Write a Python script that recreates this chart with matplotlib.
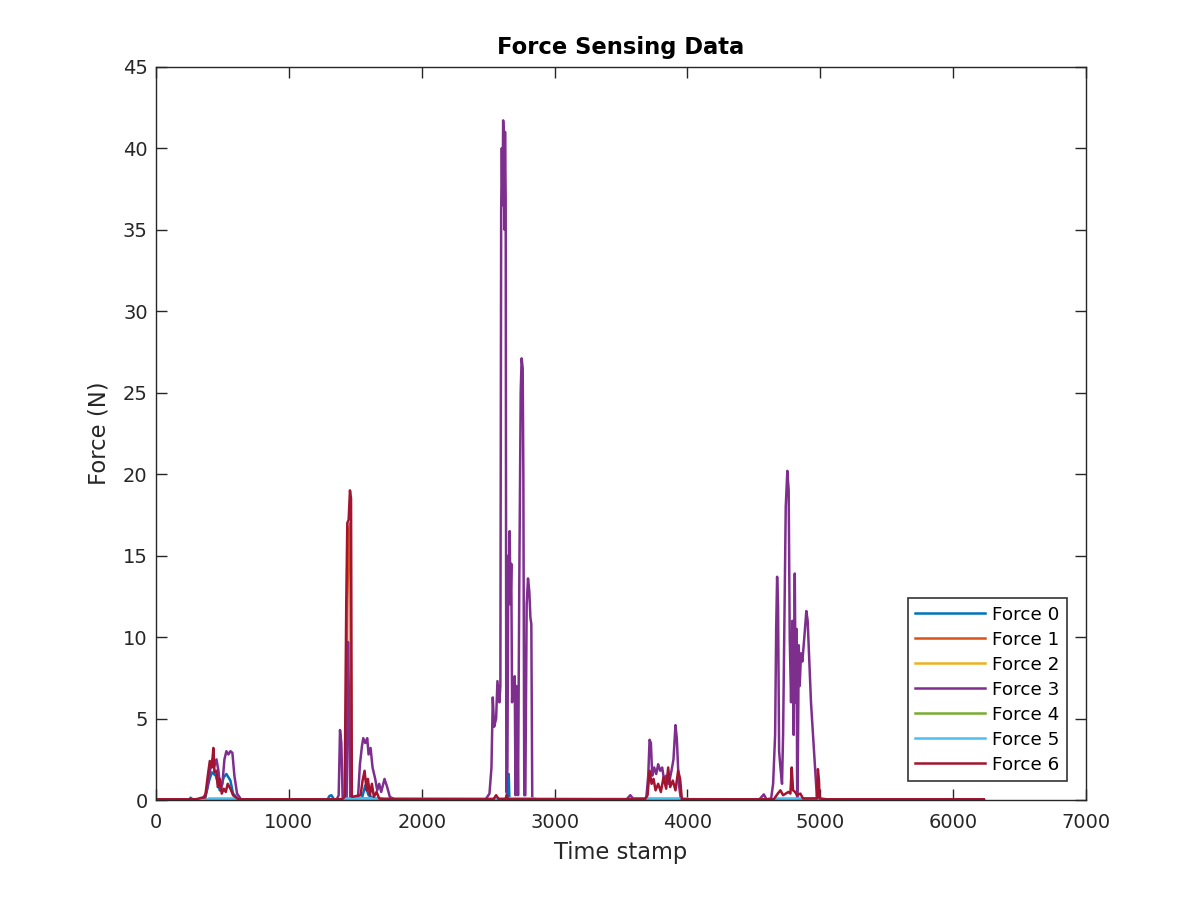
import matplotlib
matplotlib.use('Agg')
import matplotlib.pyplot as plt

# Force sensor readings, keypoints
t0 = [0, 250, 260, 280, 370, 400, 420, 450, 480, 510, 530, 560, 580, 620, 700,
      1290, 1305, 1320, 1340, 1550, 1575, 1600, 1640, 1700, 2600, 2640, 2645, 2655,
      2660, 2700, 3700, 3900, 4700, 4900, 6230]
f0 = [0.02, 0.02, 0.15, 0.02, 0.1, 1.2, 1.7, 1.5, 0.6, 1.4, 1.6, 1.2, 0.4, 0.05, 0.02,
      0.02, 0.25, 0.3, 0.05, 0.1, 0.9, 0.3, 0.1, 0.02, 0.02, 0.05, 1.6, 1.6,
      0.05, 0.02, 0.05, 0.05, 0.05, 0.05, 0.02]

t1 = [0, 1430, 1440, 1450, 1462, 1470, 6230]
f1 = [0.02, 0.05, 12.0, 16.5, 17.0, 0.1, 0.02]

t2 = [0, 6230]
f2 = [0.01, 0.01]

t3 = [0, 350, 380, 400, 415, 425, 440, 455, 470, 485, 500, 515, 530, 545, 560, 575, 590, 610, 640, 700,
      1360, 1375, 1385, 1395, 1405, 1435, 1445, 1455, 1462, 1520, 1535, 1550, 1560, 1575, 1590,
      1600, 1615, 1630, 1650, 1665, 1680, 1695, 1720, 1740, 1760, 1800,
      2480, 2510, 2525, 2535, 2545, 2560, 2570, 2585, 2592, 2598, 2603, 2608, 2613, 2618, 2622,
      2627, 2632, 2637, 2645, 2652, 2657, 2662, 2668, 2674, 2680, 2686, 2692, 2700, 2706, 2712,
      2718, 2725, 2735, 2745, 2752, 2760, 2765, 2772, 2780, 2790, 2800, 2810, 2818, 2825, 2832, 2880,
      3540, 3570, 3590, 3690, 3705, 3715, 3725, 3735, 3750, 3765, 3780, 3795, 3810, 3825, 3840,
      3860, 3880, 3895, 3910, 3920, 3935, 3950, 4000,
      4540, 4575, 4595, 4630, 4645, 4660, 4668, 4675, 4682, 4690, 4700, 4712, 4720, 4730, 4740,
      4752, 4762, 4770, 4780, 4790, 4800, 4808, 4815, 4822, 4826, 4832, 4838, 4845, 4855, 4865,
      4880, 4895, 4905, 4915, 4930, 4945, 4960, 4975, 5050, 6230]
f3 = [0.03, 0.03, 0.5, 1.5, 2.2, 2.5, 2.1, 2.5, 1.8, 0.6, 1.0, 2.5, 3.0, 2.8, 3.0, 2.9, 1.5, 0.4, 0.05, 0.03,
      0.03, 0.3, 4.3, 3.5, 0.1, 0.1, 9.7, 5.0, 0.1, 0.1, 2.2, 3.3, 3.8, 3.5, 3.8,
      2.8, 3.2, 2.0, 1.3, 0.6, 1.0, 0.5, 1.3, 0.8, 0.2, 0.03,
      0.03, 0.4, 2.0, 6.3, 4.5, 5.0, 7.3, 6.0, 7.0, 36.0, 40.0, 36.5, 41.7, 40.5, 35.0,
      41.0, 37.0, 0.5, 2.0, 15.0, 13.5, 16.5, 12.0, 14.5, 6.0, 7.5, 6.5, 7.6, 0.3, 7.0,
      6.5, 0.3, 14.0, 25.0, 27.1, 26.5, 20.0, 0.3, 0.3, 12.0, 13.6, 12.8, 11.2, 10.8, 0.1, 0.03,
      0.03, 0.3, 0.1, 0.1, 1.5, 3.7, 3.5, 1.5, 2.0, 1.6, 2.2, 1.8, 2.0, 1.2, 1.5,
      1.0, 1.8, 2.5, 4.6, 3.8, 1.0, 0.1, 0.03,
      0.03, 0.35, 0.05, 0.1, 1.0, 4.0, 10.5, 13.7, 12.0, 3.0, 2.0, 1.0, 4.0, 11.0, 18.0,
      20.2, 19.0, 10.0, 6.0, 11.0, 4.0, 13.9, 6.0, 10.5, 0.1, 3.0, 9.5, 7.0, 9.0, 8.5,
      10.0, 11.6, 11.0, 9.0, 6.0, 4.0, 2.0, 0.1, 0.03, 0.03]

t4 = [0, 6230]
f4 = [0.01, 0.01]

t5 = [0, 380, 400, 600, 620, 1380, 1400, 1700, 1720, 2550, 2570, 2850, 2870,
      3680, 3700, 4000, 4020, 4640, 4660, 4980, 5000, 6230]
f5 = [0.0, 0.0, 0.1, 0.1, 0.0, 0.0, 0.1, 0.1, 0.0, 0.0, 0.1, 0.1, 0.0,
      0.0, 0.1, 0.1, 0.0, 0.0, 0.1, 0.1, 0.0, 0.0]

t6 = [0, 300, 370, 390, 405, 420, 432, 440, 455, 465, 480, 495, 510, 525, 540, 560, 580, 620,
      1400, 1420, 1432, 1440, 1450, 1460, 1468, 1474, 1540, 1555, 1570, 1585, 1595, 1610, 1625,
      1640, 1660, 1680, 1720, 2540, 2560, 2580, 2630, 2640, 2650,
      3680, 3700, 3715, 3730, 3745, 3760, 3780, 3800, 3820, 3840, 3855, 3870, 3890, 3910, 3930,
      3945, 3958, 4650, 4680, 4700, 4720, 4740, 4760, 4775, 4785, 4795, 4810, 4825, 4850, 4870,
      4975, 4982, 4990, 4995, 5050, 6230]
f6 = [0.05, 0.05, 0.2, 1.5, 2.4, 2.0, 3.2, 1.7, 1.8, 0.8, 1.3, 0.4, 0.7, 0.5, 1.0, 0.7, 0.3, 0.05,
      0.05, 0.2, 12.0, 17.0, 17.2, 19.0, 18.5, 0.2, 0.3, 1.2, 1.8, 0.6, 1.3, 0.3, 1.0,
      0.2, 0.5, 0.1, 0.05, 0.05, 0.3, 0.05, 0.05, 0.3, 0.05,
      0.05, 0.3, 1.8, 1.0, 1.3, 0.6, 1.0, 0.5, 1.4, 0.7, 2.0, 0.8, 1.2, 0.6, 1.8,
      1.3, 0.05, 0.05, 0.4, 0.6, 0.3, 0.4, 0.5, 0.4, 2.0, 0.6, 0.5, 0.3, 0.4, 0.1,
      0.1, 1.9, 1.2, 0.1, 0.05, 0.05]

labels = ['Force 0', 'Force 1', 'Force 2', 'Force 3', 'Force 4', 'Force 5', 'Force 6']
colors = ['#0072BD', '#D95319', '#EDB120', '#7E2F8E', '#77AC30', '#4DBEEE', '#A2142F']
series = [(t0, f0), (t1, f1), (t2, f2), (t3, f3), (t4, f4), (t5, f5), (t6, f6)]

axcol = '#262626'
plt.rcParams['font.family'] = 'DejaVu Sans'

fig = plt.figure(figsize=(12, 9), dpi=100)
ax = fig.add_axes([0.13, 0.111, 0.775, 0.815])

for (t, f), lab, c in zip(series, labels, colors):
    ax.plot(t, f, color=c, lw=1.8, label=lab)

ax.set_xlim(0, 7000)
ax.set_ylim(0, 45)
ax.set_xticks(range(0, 7001, 1000))
ax.set_yticks(range(0, 46, 5))
ax.tick_params(direction='in', top=True, right=True, length=8, width=1,
               labelsize=14, colors=axcol, pad=6)
ax.tick_params(axis='x', pad=9)
for s in ax.spines.values():
    s.set_color(axcol)
    s.set_linewidth(1)

ax.set_title('Force Sensing Data', fontsize=16.3, fontweight='bold', color='black', pad=9)
ax.set_xlabel('Time stamp', fontsize=16.3, color=axcol, labelpad=7)
ax.set_ylabel('Force (N)', fontsize=16.3, color=axcol, labelpad=9)

leg = ax.legend(loc='lower right', fontsize=13.2, frameon=True, fancybox=False,
                edgecolor='black', borderpad=0.4, labelspacing=0.38,
                handlelength=3.8, handletextpad=0.4, borderaxespad=1.05)
leg.get_frame().set_linewidth(1.2)

fig.savefig('out.png', dpi=100, facecolor='white')
